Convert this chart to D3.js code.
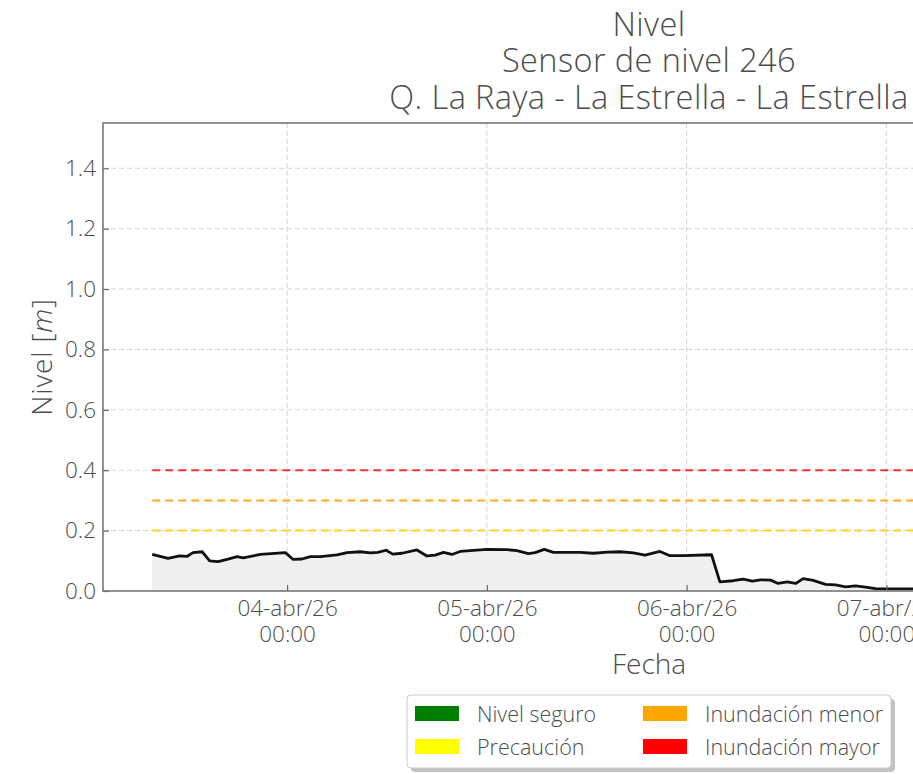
<!DOCTYPE html>
<html><head><meta charset="utf-8">
<script src="https://cdn.jsdelivr.net/npm/d3@7"></script>
<style>
html,body{margin:0;padding:0;background:#fff;overflow:hidden}
text{font-family:"Open Sans",Lato,sans-serif;font-weight:300;fill:#4d4d4d}
</style></head>
<body><svg id="c" width="913" height="774"></svg>
<script>
// ---- data ----
const times = ["2026-04-03T07:48","2026-04-03T09:42","2026-04-03T11:06","2026-04-03T12:00","2026-04-03T12:42","2026-04-03T13:48","2026-04-03T14:42","2026-04-03T15:42","2026-04-03T16:48","2026-04-03T18:00","2026-04-03T18:42","2026-04-03T20:48","2026-04-03T23:48",
"2026-04-04T00:42","2026-04-04T01:48","2026-04-04T02:48","2026-04-04T04:00","2026-04-04T06:00","2026-04-04T07:12","2026-04-04T08:48","2026-04-04T10:00","2026-04-04T10:54","2026-04-04T11:54","2026-04-04T12:42","2026-04-04T13:48","2026-04-04T15:36","2026-04-04T16:48","2026-04-04T17:48","2026-04-04T18:48","2026-04-04T19:48","2026-04-04T20:48","2026-04-04T22:00",
"2026-04-05T00:00","2026-04-05T02:24","2026-04-05T03:36","2026-04-05T05:00","2026-04-05T05:48","2026-04-05T06:54","2026-04-05T08:00","2026-04-05T09:42","2026-04-05T11:12","2026-04-05T12:48","2026-04-05T14:30","2026-04-05T16:00","2026-04-05T17:36","2026-04-05T19:00","2026-04-05T20:48","2026-04-05T22:00","2026-04-05T23:36",
"2026-04-06T03:00","2026-04-06T04:00","2026-04-06T05:36","2026-04-06T06:48","2026-04-06T07:54","2026-04-06T08:54","2026-04-06T10:06","2026-04-06T11:00","2026-04-06T12:06","2026-04-06T13:06","2026-04-06T14:00","2026-04-06T15:12","2026-04-06T16:42","2026-04-06T17:54","2026-04-06T19:06","2026-04-06T20:18","2026-04-06T21:30","2026-04-06T22:42",
"2026-04-07T00:06","2026-04-07T03:12","2026-04-07T08:00"];
const levels = [0.121,0.108,0.116,0.115,0.127,0.130,0.100,0.097,0.105,0.114,0.110,0.121,0.127,
0.105,0.106,0.114,0.114,0.120,0.127,0.130,0.126,0.128,0.135,0.122,0.125,0.136,0.116,0.119,0.128,0.121,0.131,0.134,
0.138,0.137,0.134,0.124,0.127,0.138,0.128,0.128,0.128,0.125,0.129,0.130,0.126,0.119,0.131,0.117,0.117,
0.120,0.030,0.034,0.039,0.033,0.037,0.036,0.025,0.030,0.025,0.041,0.035,0.022,0.020,0.014,0.017,0.013,0.008,
0.007,0.007,0.007];
const thresholdNames = ["Precaución","Inundación menor","Inundación mayor"];
const thresholdValues = [0.2,0.3,0.4];
const thresholdColors = ["#ffd21f","#ffa91f","#f53535"];
const yTicks = [0,0.2,0.4,0.6,0.8,1.0,1.2,1.4];
const xTicks = ["2026-04-04T00:00","2026-04-05T00:00","2026-04-06T00:00","2026-04-07T00:00"];
const months = ["ene","feb","mar","abr","may","jun","jul","ago","sep","oct","nov","dic"];
const legendLabels = ["Nivel seguro","Precaución","Inundación menor","Inundación mayor"];
const legendColors = ["#008000","#ffff00","#ffa500","#ff0000"];
const titleLines = ["Nivel","Sensor de nivel 246","Q. La Raya - La Estrella - La Estrella"];

// ---- layout ----
const parse = d3.isoParse;
const data = times.map((t,i)=>({t:parse(t),v:levels[i]}));
const L=103,R=1195,T=123,B=591;
const x = d3.scaleTime().domain([parse("2026-04-03T01:53"),parse("2026-04-08T13:05")]).range([L,R]);
const y = d3.scaleLinear().domain([0,1.55]).range([B,T]);
const svg = d3.select("#c");

// grid
const g = svg.append("g");
g.selectAll(".gy").data(yTicks.slice(1)).join("line")
 .attr("x1",L).attr("x2",R).attr("y1",d=>y(d)).attr("y2",d=>y(d))
 .attr("stroke","#d4d4d4").attr("stroke-width",1).attr("stroke-dasharray","5,3");
g.selectAll(".gx").data(xTicks.map(parse)).join("line")
 .attr("x1",d=>x(d)).attr("x2",d=>x(d)).attr("y1",T).attr("y2",B)
 .attr("stroke","#d4d4d4").attr("stroke-width",1).attr("stroke-dasharray","5,3");

// area + line
svg.append("path").datum(data)
 .attr("d",d3.area().x(d=>x(d.t)).y0(y(0)).y1(d=>y(d.v)))
 .attr("fill","#f0f0f0");
// thresholds
const t0 = data[0].t;
thresholdValues.forEach((v,i)=>{
  svg.append("line").attr("x1",x(t0)).attr("x2",R).attr("y1",y(v)).attr("y2",y(v))
   .attr("stroke",thresholdColors[i]).attr("stroke-width",2).attr("stroke-dasharray","8,5");
});
svg.append("path").datum(data)
 .attr("d",d3.line().x(d=>x(d.t)).y(d=>y(d.v)))
 .attr("fill","none").attr("stroke","#111").attr("stroke-width",2.8).attr("stroke-linejoin","round");

// axes
const fmt = d=>{const dd=String(d.getDate()).padStart(2,"0");return dd+"-"+months[d.getMonth()]+"/"+String(d.getFullYear()).slice(2);};
const ay = svg.append("g").attr("transform",`translate(${L},0)`)
 .call(d3.axisLeft(y).tickValues(yTicks).tickFormat(d3.format(".1f")).tickSizeInner(-6).tickSizeOuter(0).tickPadding(7));
const ax = svg.append("g").attr("transform",`translate(0,${B})`)
 .call(d3.axisBottom(x).tickValues(xTicks.map(parse)).tickFormat("").tickSizeInner(-6).tickSizeOuter(0));
[ay,ax].forEach(a=>{a.select(".domain").remove();a.selectAll(".tick line").attr("stroke","#666").attr("stroke-width",1.2);});
ay.selectAll(".tick text").style("font-size","22.5px").style("fill","#4d4d4d").style("font-family","'Open Sans'").style("font-weight","300");
ax.selectAll(".tick").each(function(d){
  const s=d3.select(this);
  s.append("text").attr("y",25).attr("text-anchor","middle").style("font-size","22.5px").text(fmt(d));
  s.append("text").attr("y",51).attr("text-anchor","middle").style("font-size","22.5px").text(d3.timeFormat("%H:%M")(d));
});
// frame
svg.append("rect").attr("x",L).attr("y",T).attr("width",R-L).attr("height",B-T)
 .attr("fill","none").attr("stroke","#777").attr("stroke-width",1.6);

// labels
const cx = 649;
svg.selectAll(".title").data(titleLines).join("text")
 .attr("x",cx).attr("y",(d,i)=>35.5+i*36.5).attr("text-anchor","middle")
 .style("font-size","32.5px").style("letter-spacing","0.4px").text(d=>d);
svg.append("text").attr("x",cx).attr("y",674).attr("text-anchor","middle").style("font-size","28px").text("Fecha");
const yl = svg.append("text").attr("transform","translate(52,357) rotate(-90)").attr("text-anchor","middle").style("font-size","28px").style("letter-spacing","0.8px");
yl.append("tspan").text("Nivel [");
yl.append("tspan").style("font-style","italic").text("m");
yl.append("tspan").text("]");

// legend
const lg = svg.append("g");
lg.append("rect").attr("x",411).attr("y",699).attr("width",484).attr("height",73).attr("rx",4).attr("fill","#999").attr("opacity",0.6);
lg.append("rect").attr("x",407).attr("y",695).attr("width",484).attr("height",73).attr("rx",4).attr("fill","#fff").attr("stroke","#ccc").attr("stroke-width",1);
legendLabels.forEach((lab,i)=>{
  const col = Math.floor(i/2), row = i%2;
  const sx = 415 + col*228, sy = 706 + row*33;
  lg.append("rect").attr("x",sx).attr("y",sy).attr("width",44).attr("height",15).attr("fill",legendColors[i]);
  lg.append("text").attr("x",sx+62).attr("y",sy+16).style("font-size",'21.5px').text(lab);
});
</script></body></html>
